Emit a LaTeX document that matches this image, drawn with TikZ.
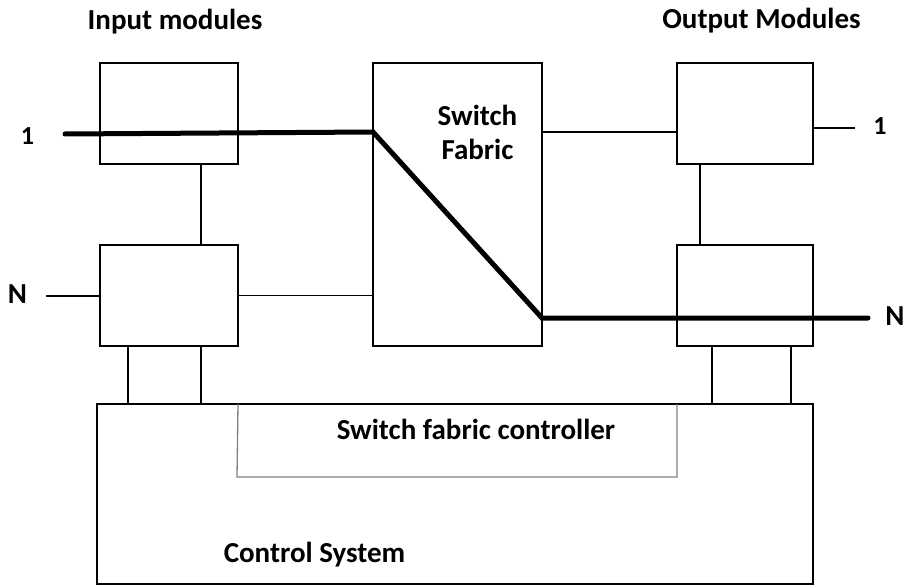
\documentclass[tikz,border=0pt]{standalone}
\usepackage{fontspec}
\setmainfont{Carlito}
\begin{document}
\begin{tikzpicture}[x=1pt,y=-1pt,
  modbox/.style={draw,line width=2.8pt,minimum width=138pt,minimum height=101pt,inner sep=0pt,outer sep=0pt},
  thin/.style={line width=1.3pt},
  heavy/.style={line width=5pt,line cap=round,line join=miter},
  ctlline/.style={line width=1.3pt,draw=gray},
  lbl/.style={font=\fontsize{29}{34}\selectfont\bfseries,inner sep=0pt,anchor=base},
  num/.style={font=\fontsize{26}{30}\selectfont\bfseries,inner sep=0pt,anchor=base}]
\useasboundingbox (0,0) rectangle (906,586);
% boxes
\node[modbox] (in1) at (169,113.5) {};
\node[modbox] (inN) at (169,295.5) {};
\node[modbox,minimum width=169pt,minimum height=283pt] (sf) at (457.5,204.5) {};
\node[modbox,minimum width=136pt] (out1) at (745,113.5) {};
\node[modbox,minimum width=136pt] (outN) at (745,295.5) {};
\node[modbox,minimum width=716pt,minimum height=180pt] (ctrl) at (455,494) {};
% labels
\node[lbl] (tin) at (175,30) {Input modules};
\node[lbl] (tout) at (761.5,29) {Output Modules};
\node[lbl,align=center,anchor=north] (tsf) at (477.5,105) {Switch\\Fabric};
\node[lbl] (tctl) at (476,439) {Switch fabric controller};
\node[lbl] (tcs) at (314.5,562) {Control System};
\node[num] (l1) at (27.5,144) {1};
\node[lbl] (lN) at (17.5,303) {N};
\node[num] (r1) at (880,135) {1};
\node[lbl] (rN) at (895,325) {N};
% coordinates
\coordinate (p1) at (65,134);
\coordinate (sfA) at (373,132);
\coordinate (sfB) at (542,318);
\coordinate (pN) at (868,318);
\coordinate (nL) at (46,296);
\coordinate (r1e) at (855,128);
% thin connectors
\draw[thin] (nL) -- (inN.west |- nL);
\draw[thin] (inN.east) -- (inN.east -| sf.west);
\draw[thin] ([xshift=32pt]in1.south) -- ([xshift=32pt]inN.north);
\draw[thin] ([xshift=-41pt]inN.south) -- ([xshift=-41pt]inN.south |- ctrl.north);
\draw[thin] ([xshift=32pt]inN.south) -- ([xshift=32pt]inN.south |- ctrl.north);
\draw[thin] (sf.east |- sfA) -- (out1.west |- sfA);
\draw[thin] (out1.east |- r1e) -- (r1e);
\draw[thin] ([xshift=-45pt]out1.south) -- ([xshift=-45pt]outN.north);
\draw[thin] ([xshift=-33pt]outN.south) -- ([xshift=-33pt]outN.south |- ctrl.north);
\draw[thin] ([xshift=46pt]outN.south) -- ([xshift=46pt]outN.south |- ctrl.north);
% controller outline
\draw[ctlline] (inN.east |- ctrl.north) -- (237,477) -- (677,477) -- (outN.west |- ctrl.north);
% heavy path
\draw[heavy] (p1) -- (sfA) -- (sfB) -- (pN);
\end{tikzpicture}
\end{document}
